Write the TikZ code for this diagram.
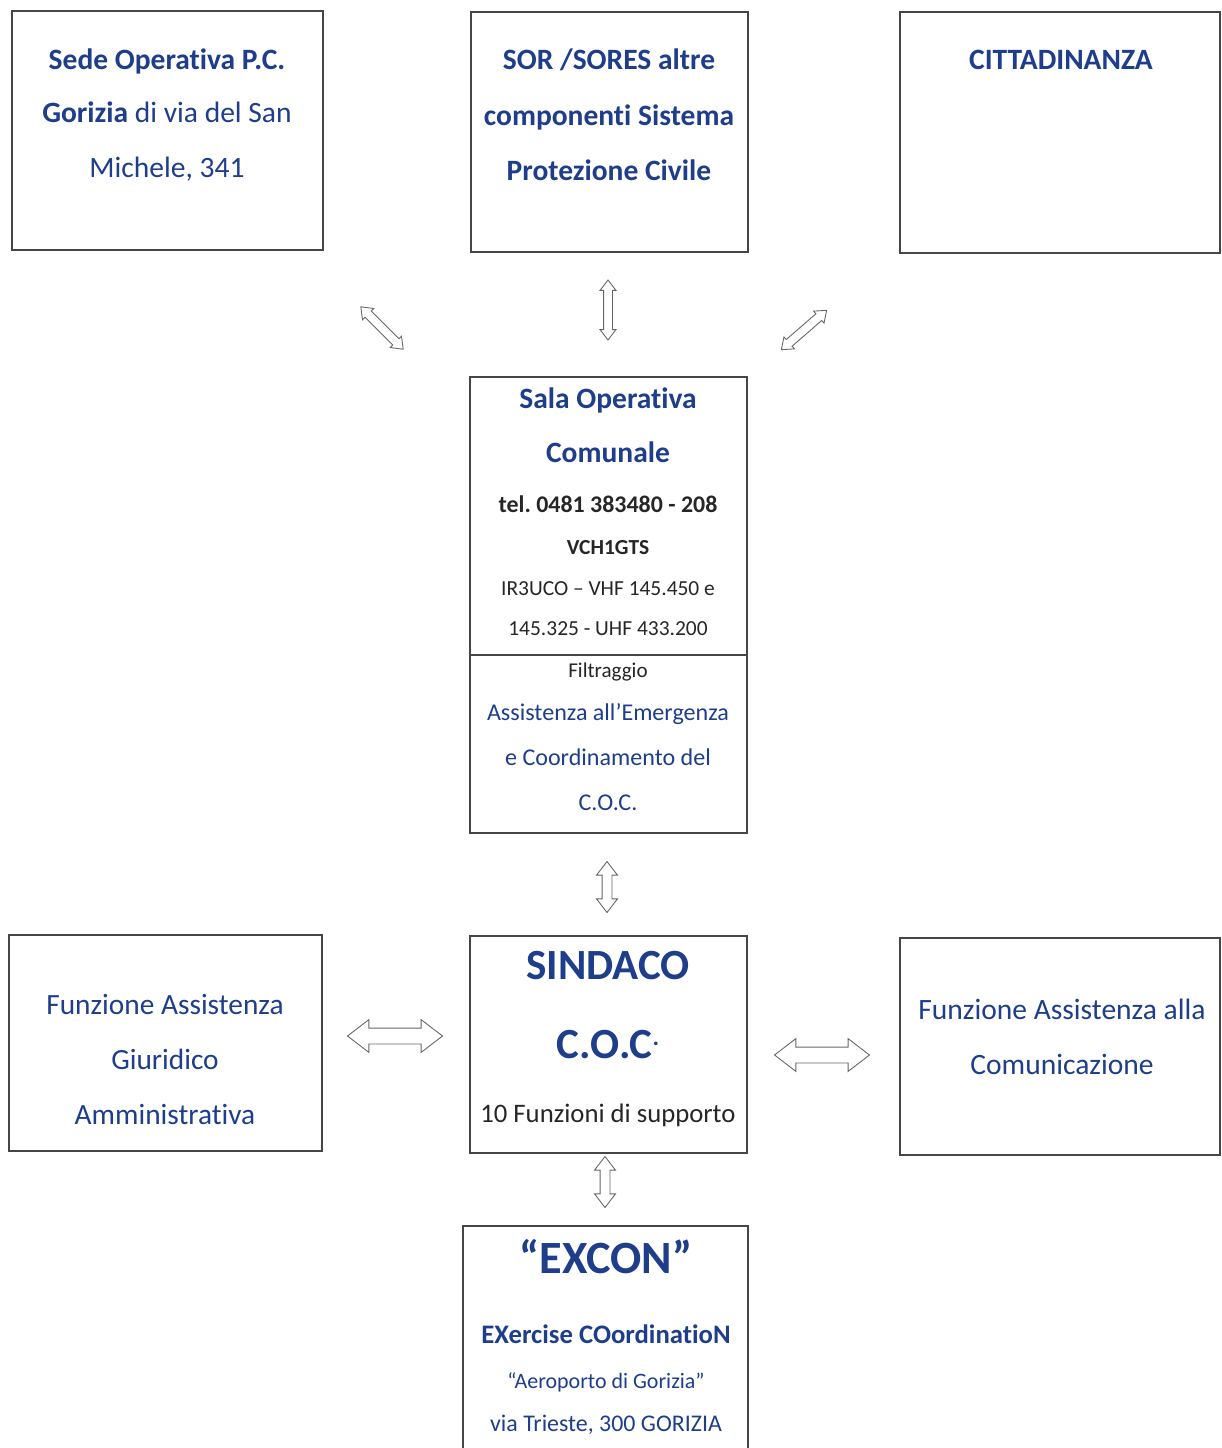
\documentclass[tikz,border=0pt]{standalone}
\usepackage{fontspec}
\setmainfont{Carlito}[Ligatures=NoCommon]
\usetikzlibrary{shapes.arrows,positioning}
\definecolor{cblue}{RGB}{30,62,140}
\definecolor{cline}{RGB}{70,70,70}
\frenchspacing

\tikzset{
  box/.style={draw=cline, line width=0.8pt, inner sep=0pt, fill=white},
  txt/.style={anchor=base, inner sep=0pt, text=cblue},
  blk/.style={anchor=base, inner sep=0pt, text=black!85},
  dbl/.style={double arrow, draw=black!60, fill=white, line width=0.5pt,
    inner xsep=0pt, double arrow tip angle=75},
  small arrow/.style={dbl, inner ysep=0.08cm, minimum width=0.3cm,
    minimum height=1.2cm, double arrow head extend=0.07cm},
  mid arrow/.style={dbl, inner ysep=0.09cm, minimum width=0.4cm,
    minimum height=1.02cm, double arrow head extend=0.11cm},
  wide arrow/.style={dbl, inner ysep=0.15cm, minimum width=0.64cm,
    minimum height=1.9cm, double arrow head extend=0.17cm}
}

\begin{document}
\begin{tikzpicture}[x=0.02cm, y=-0.02cm]
\useasboundingbox [fill=white] (0,0) rectangle (1222,1448);

% top row
\node [box, minimum width=6.22cm, minimum height=4.78cm] (sede) at (167.5,130.5) {};
\node [box, minimum width=5.54cm, minimum height=4.8cm] (sor) at (609.5,132) {};
\node [box, minimum width=6.4cm, minimum height=4.82cm] (citt) at (1060,132.5) {};

\node [txt, font=\fontsize{16.8}{16.8}\bfseries] (sede1) at (167,69) {Sede Operativa P.C.};
\node [txt, font=\fontsize{16.8}{16.8}\selectfont] (sede2) at (167,122) {\textbf{Gorizia} di via del San};
\node [txt, font=\fontsize{16.8}{16.8}\selectfont] (sede3) at (167,177) {Michele, 341};

\node [txt, font=\fontsize{16.8}{16.8}\bfseries] (sor1) at (609,69) {SOR /SORES altre};
\node [txt, font=\fontsize{16.8}{16.8}\bfseries] (sor2) at (609,125) {componenti Sistema};
\node [txt, font=\fontsize{16.8}{16.8}\bfseries] (sor3) at (609,180) {Protezione Civile};

\node [txt, font=\fontsize{16.8}{16.8}\bfseries] (citt1) at (1061,69) {CITTADINANZA};

% sala operativa
\node [box, minimum width=5.54cm, minimum height=5.56cm] (sala) at (608.5,516) {};
\node [box, minimum width=5.54cm, minimum height=3.56cm] (filtro) at (608.5,744) {};

\node [txt, font=\fontsize{16.8}{16.8}\bfseries] (sala1) at (608,408) {Sala Operativa};
\node [txt, font=\fontsize{16.8}{16.8}\bfseries] (sala2) at (608,462) {Comunale};
\node [blk, font=\fontsize{13.6}{13.6}\bfseries] (sala3) at (608,512) {tel. 0481 383480 - 208};
\node [blk, font=\fontsize{12.2}{12.2}\bfseries] (sala4) at (608,554) {VCH1GTS};
\node [blk, font=\fontsize{12.2}{12.2}\selectfont] (sala5) at (608,595) {IR3UCO -- VHF 145.450 e};
\node [blk, font=\fontsize{12.2}{12.2}\selectfont] (sala6) at (608,635) {145.325 - UHF 433.200};

\node [blk, font=\fontsize{12}{12}\selectfont] (filtro1) at (608,677) {Filtraggio};
\node [txt, font=\fontsize{13.7}{13.7}\selectfont] (filtro2) at (608,720) {Assistenza all’Emergenza};
\node [txt, font=\fontsize{13.7}{13.7}\selectfont] (filtro3) at (608,765) {e Coordinamento del};
\node [txt, font=\fontsize{13.7}{13.7}\selectfont] (filtro4) at (608,810) {C.O.C.};

% middle row
\node [box, minimum width=6.26cm, minimum height=4.32cm] (giur) at (165.5,1043) {};
\node [box, minimum width=5.54cm, minimum height=4.34cm] (sindaco) at (608.5,1044.5) {};
\node [box, minimum width=6.4cm, minimum height=4.34cm] (comun) at (1060,1046.5) {};

\node [txt, font=\fontsize{16.7}{16.7}\selectfont] (giur1) at (165,1014) {Funzione Assistenza};
\node [txt, font=\fontsize{16.7}{16.7}\selectfont] (giur2) at (165,1069) {Giuridico};
\node [txt, font=\fontsize{16.7}{16.7}\selectfont] (giur3) at (165,1124) {Amministrativa};

\node [txt, font=\fontsize{24.5}{24.5}\bfseries] (sind1) at (608,979) {SINDACO};
\node [txt, font=\fontsize{24.5}{24.5}\bfseries] (sind2) at (608,1058) {C.O.C\raisebox{0.3em}{\fontsize{14}{14}\selectfont.}};
\node [blk, font=\fontsize{15.2}{15.2}\selectfont] (sind3) at (608,1122) {10 Funzioni di supporto};

\node [txt, font=\fontsize{16.8}{16.8}\selectfont] (comun1) at (1062,1019) {Funzione Assistenza alla};
\node [txt, font=\fontsize{16.8}{16.8}\selectfont] (comun2) at (1062,1074) {Comunicazione};

% excon
\node [box, minimum width=5.7cm, minimum height=4.68cm] (excon) at (605.5,1343) {};

\node [txt, font=\fontsize{26.3}{26.3}\bfseries] (excon1) at (606,1273) {“EXCON”};
\node [txt, font=\fontsize{15.2}{15.2}\bfseries] (excon2) at (606,1343) {EXercise COordinatioN};
\node [txt, font=\fontsize{12.5}{12.5}\selectfont] (excon3) at (606,1388) {“Aeroporto di Gorizia”};
\node [txt, font=\fontsize{13.6}{13.6}\selectfont] (excon4) at (606,1431) {via Trieste, 300 GORIZIA};

% double arrows
\node [small arrow, rotate=-45] (a1) at (382,328) {};
\node [small arrow, rotate=90] (a2) at (608,310) {};
\node [small arrow, rotate=41] (a3) at (804,330) {};
\node [mid arrow, rotate=90] (a4) at (607,887) {};
\node [wide arrow] (a5) at (395,1036) {};
\node [wide arrow] (a6) at (822,1055) {};
\node [mid arrow, rotate=90] (a7) at (605,1182) {};

\end{tikzpicture}
\end{document}
